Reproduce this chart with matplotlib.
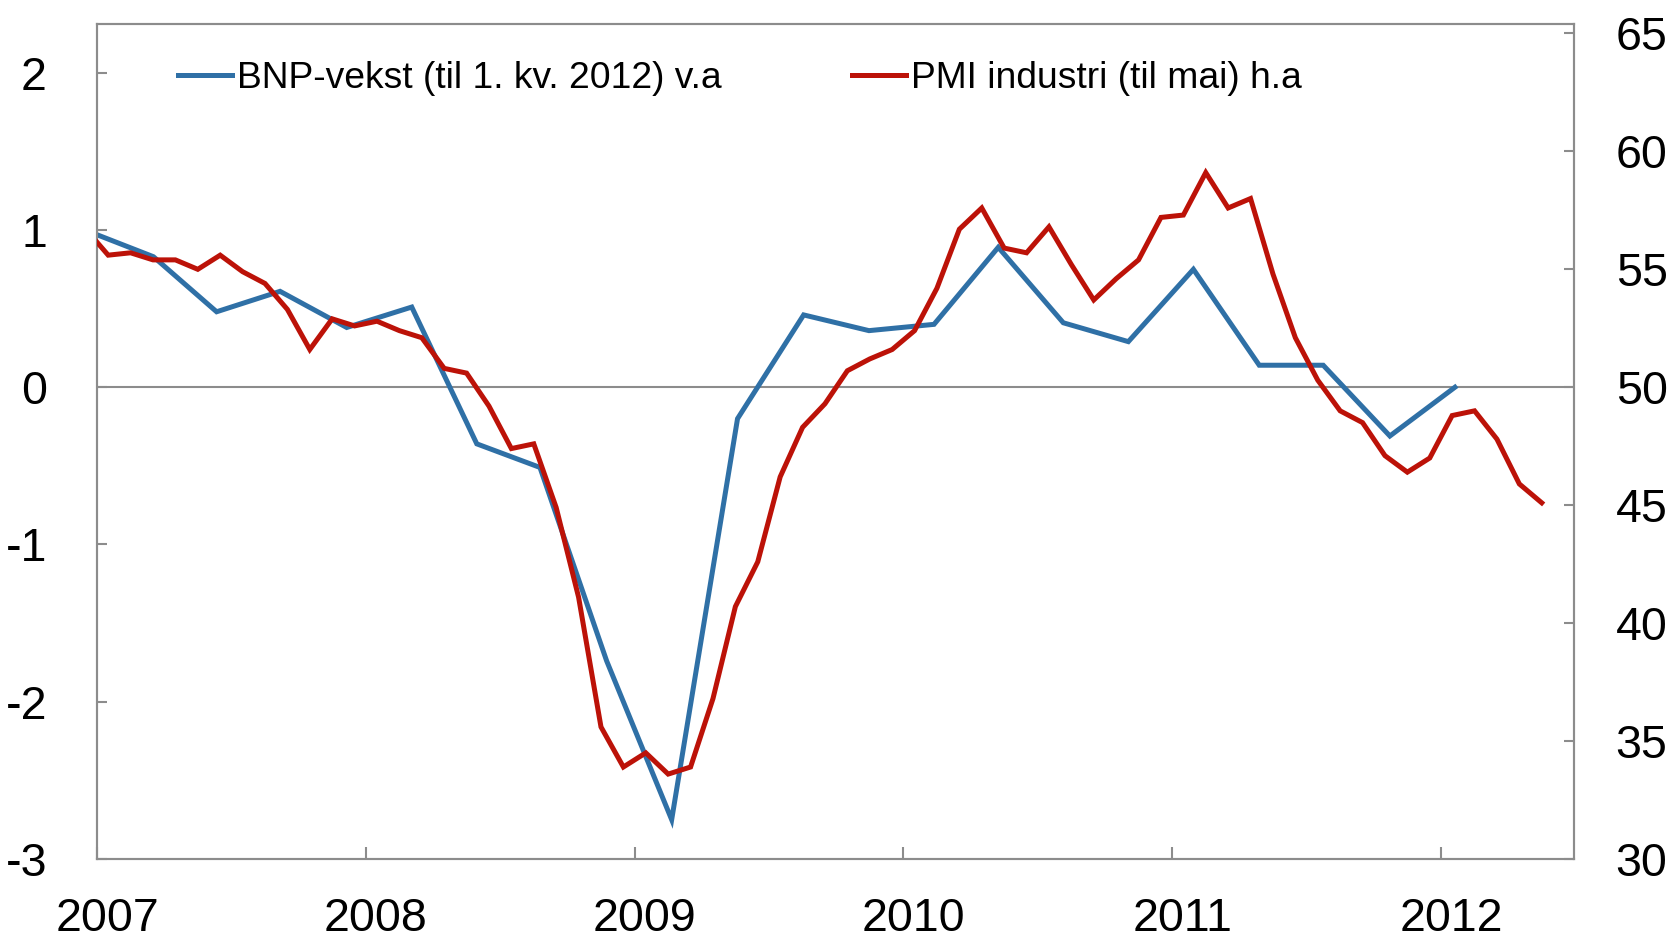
import matplotlib
matplotlib.use('Agg')
import matplotlib.pyplot as plt
import matplotlib.transforms as mtransforms
import pandas as pd

plt.rcParams['font.family'] = ['Liberation Sans', 'DejaVu Sans']

# ---------------- data ----------------
gdp_label = "BNP-vekst (til 1. kv. 2012) v.a"
pmi_label = "PMI industri (til mai) h.a"

# quarterly GDP growth (left axis), positions in decimal years as drawn
gdp_x = [2007.00, 2007.21, 2007.445, 2007.681, 2007.929, 2008.171, 2008.413,
         2008.648, 2008.896, 2009.138, 2009.383, 2009.629, 2009.872, 2010.114,
         2010.353, 2010.595, 2010.837, 2011.079, 2011.324, 2011.562, 2011.810,
         2012.052]
gdp = [0.97, 0.83, 0.48, 0.61, 0.38, 0.51, -0.36, -0.51, -1.74, -2.75, -0.20,
       0.46, 0.36, 0.40, 0.89, 0.41, 0.29, 0.75, 0.14, 0.14, -0.31, 0.00]

# monthly PMI manufacturing (right axis), Dec 2006 - May 2012
pmi_months = pd.date_range('2006-12-01', '2012-05-01', freq='MS')
pmi = [56.7,
       55.6, 55.7, 55.4, 55.4, 55.0, 55.6, 54.9, 54.4, 53.3, 51.6, 52.9, 52.6,
       52.8, 52.4, 52.1, 50.8, 50.6, 49.2, 47.4, 47.6, 44.9, 41.1, 35.6, 33.9,
       34.5, 33.6, 33.9, 36.8, 40.7, 42.6, 46.2, 48.3, 49.3, 50.7, 51.2, 51.6,
       52.4, 54.2, 56.7, 57.6, 55.9, 55.7, 56.8, 55.2, 53.7, 54.6, 55.4, 57.2,
       57.3, 59.1, 57.6, 58.0, 54.8, 52.1, 50.3, 49.0, 48.5, 47.1, 46.4, 47.0,
       48.8, 49.0, 47.8, 45.9, 45.1]

years = [2007, 2008, 2009, 2010, 2011, 2012]
left_ticks = [-3, -2, -1, 0, 1, 2]
right_ticks = [30, 35, 40, 45, 50, 55, 60, 65]

# mid-month positions
pmi_x = [d.year + (d.month - 0.5) / 12 for d in pmi_months]

# ---------------- styling ----------------
BLUE = '#2F70A6'
RED = '#BC1208'
GREY = '#8C8C8C'

W, H = 1674, 938
fig = plt.figure(figsize=(W / 100, H / 100), dpi=100)
ax = fig.add_axes([97 / W, 1 - 859 / H, 1477 / W, 835 / H])
ax2 = ax.twinx()

ax.axhline(0, color=GREY, lw=1.5, zorder=1)
l1, = ax.plot(gdp_x, gdp, color=BLUE, lw=3.6, zorder=3, solid_joinstyle='miter')
l2, = ax2.plot(pmi_x, pmi, color=RED, lw=3.6, zorder=3, solid_joinstyle='miter')

ax.set_xlim(2007, 2012.495)
ax.set_ylim(-3, 2.31)
ax2.set_ylim(30, 65.4)

ax.set_xticks(years)
ax.set_xticklabels([str(y) for y in years])
ax.set_yticks(left_ticks)
ax.set_yticklabels([str(v) for v in left_ticks])
ax2.set_yticks(right_ticks)
ax2.set_yticklabels([str(v) for v in right_ticks])

ax.tick_params(axis='y', direction='in', length=7, width=1.5, color=GREY,
               pad=36, labelsize=33.5)
ax.tick_params(axis='x', direction='in', length=9, width=1.5, color=GREY,
               pad=27, labelsize=33.5)
ax2.tick_params(axis='y', direction='in', length=7, width=1.5, color=GREY,
                pad=30, labelsize=33.5)

offset = mtransforms.ScaledTranslation(10 / 100, 0, fig.dpi_scale_trans)
for lab in ax.get_xticklabels():
    lab.set_transform(lab.get_transform() + offset)

for a in (ax, ax2):
    for s in a.spines.values():
        s.set_color(GREY)
        s.set_linewidth(1.5)

leg_kw = dict(loc='center left', frameon=False, borderpad=0, borderaxespad=0,
              handlelength=1.45, handletextpad=0.15, fontsize=26.8)
leg1 = ax2.legend([l1], [gdp_label], bbox_to_anchor=(0.0548, 0.935), **leg_kw)
ax2.add_artist(leg1)
leg2 = ax2.legend([l2], [pmi_label], bbox_to_anchor=(0.511, 0.935), **leg_kw)

fig.savefig('out.png', dpi=100)
